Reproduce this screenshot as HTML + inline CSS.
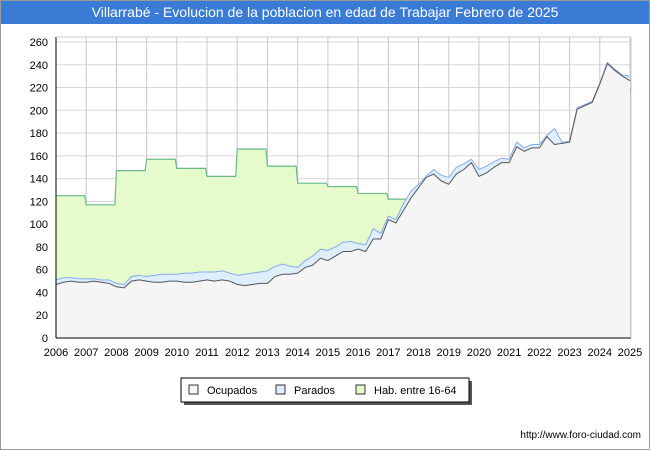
<!DOCTYPE html>
<html><head><meta charset="utf-8"><style>
body{margin:0;background:#fff;font-family:"Liberation Sans",sans-serif}
#wrap{position:relative;width:648px;height:448px;border:1px solid #9a9a9a;overflow:hidden}
#title{position:absolute;left:0;top:0;width:648px;height:23px;background:#3a7bd5;color:#fff;font-size:14px;line-height:23px;text-align:center}
</style></head><body>
<div id="wrap">
<div id="title">Villarrabé - Evolucion de la poblacion en edad de Trabajar Febrero de 2025</div>
<svg id="svg" width="648" height="448" style="position:absolute;left:0;top:0"></svg>
</div>
<script>
const years=[2006,2007,2008,2009,2010,2011,2012,2013,2014,2015,2016,2017,2018,2019,2020,2021,2022,2023,2024,2025];
const habValues=[125,117,147,157,149,142,166,151,136,133,127,122,118,128,140,150,160,165,200,220];
const ocupados=[47,49,50,49,49,50,49,48,45,44,50,51,50,49,49,50,50,49,49,50,51,50,51,50,47,46,47,48,48,54,56,56,57,62,64,70,68,72,76,76,78,76,87,87,104,101,112,123,132,141,144,138,135,144,148,154,142,145,150,154,154,168,164,167,167,177,170,171,172,201,204,207,223,241,235,230,226];
const parados=[51,53,53,52,52,52,51,51,48,47,54,55,54,55,56,56,56,57,57,58,58,58,59,57,55,56,57,58,59,63,65,63,62,68,72,78,77,80,84,85,83,82,96,92,107,104,118,129,135,142,148,143,141,150,153,157,148,151,155,158,157,172,167,170,170,178,184,172,173,202,205,208,224,242,236,231,230];
const yTicks=[0,20,40,60,80,100,120,140,160,180,200,220,240,260];
const L=55,R=630,T=36,B=337;
const x=v=>L+(v-2006)/19*(R-1-L);
const y=v=>B-v*(B-41)/260;
const NS="http://www.w3.org/2000/svg",svg=document.getElementById('svg');
function mk(tag,at,name,parent){const e=document.createElementNS(NS,tag);for(const k in at)e.setAttribute(k,at[k]);


(parent||svg).appendChild(e);return e;}
mk('rect',{x:L,y:T,width:R-L,height:B-T,fill:'#fff'},'plot-background');
// grid
yTicks.forEach(t=>{mk('line',{x1:L,x2:R,y1:y(t),y2:y(t),stroke:'#d8d8d8','stroke-width':1},'y-gridline');
const tx=mk('text',{x:L-8,y:y(t)+4,'text-anchor':'end','font-size':11,fill:'#000'},'y-tick-label');tx.textContent=t;});
years.forEach(yr=>{mk('line',{x1:x(yr),x2:x(yr),y1:T,y2:B,stroke:'#c8c8c8','stroke-width':1},'x-gridline');
const tx=mk('text',{x:x(yr),y:B+18,'text-anchor':'middle','font-size':11,fill:'#000'},'x-tick-label');tx.textContent=yr;});
// hab step
let hp=[];habValues.forEach((v,i)=>{if(i<years.length-1){hp.push([x(years[i]),y(v)],[x(years[i]+0.95),y(v)]);}});
hp.push([x(2025),y(habValues[habValues.length-1])]);
const hs=hp.map(p=>p.join(',')).join(' ');
mk('polygon',{points:hs+' '+x(2025)+','+B+' '+L+','+B,fill:'#e6fbcc'},'hab-area');
mk('polyline',{points:hs,fill:'none',stroke:'#6ab88a','stroke-width':1.2},'hab-line');
const qx=i=>x(2006+i*0.25);
const pp=parados.map((v,i)=>qx(i)+','+y(v)).join(' ');
mk('polygon',{points:pp+' '+qx(parados.length-1)+','+B+' '+L+','+B,fill:'#ddeeff'},'parados-area');
mk('polyline',{points:pp,fill:'none',stroke:'#88aaee','stroke-width':1},'parados-line');
const op=ocupados.map((v,i)=>qx(i)+','+y(v)).join(' ');
mk('polygon',{points:op+' '+qx(ocupados.length-1)+','+B+' '+L+','+B,fill:'#f5f5f5'},'ocupados-area');
mk('polyline',{points:op,fill:'none',stroke:'#555','stroke-width':1},'ocupados-line');
mk('line',{x1:L,x2:L,y1:T,y2:B,stroke:'#000'},'y-axis');
mk('line',{x1:L,x2:R,y1:B,y2:B,stroke:'#000'},'x-axis');
mk('line',{x1:R,x2:R,y1:T,y2:B,stroke:'#c8c8c8'},'plot-right-border');
mk('line',{x1:L,x2:R,y1:T,y2:T,stroke:'#c8c8c8'},'plot-top-border');
// legend
const g=mk('g',{},'legend');
mk('rect',{x:183,y:380,width:288,height:24,fill:'#555'},'legend-shadow',g);
mk('rect',{x:180,y:377,width:288,height:24,fill:'#fff',stroke:'#000'},'legend-box',g);
[[188,'#f5f5f5','#555','Ocupados'],[275,'#ddeeff','#88aaee','Parados'],[355,'#e6fbcc','#6ab88a','Hab. entre 16-64']].forEach(a=>{
mk('rect',{x:a[0],y:384,width:9,height:9,fill:a[1],stroke:'#333'},'legend-swatch',g);
const t=mk('text',{x:a[0]+18,y:393,'font-size':11},'legend-entry',g);t.textContent=a[3];});
const f=mk('text',{x:640,y:437,'text-anchor':'end','font-size':10},'source-url');f.textContent='http://www.foro-ciudad.com';
</script>
</body></html>
